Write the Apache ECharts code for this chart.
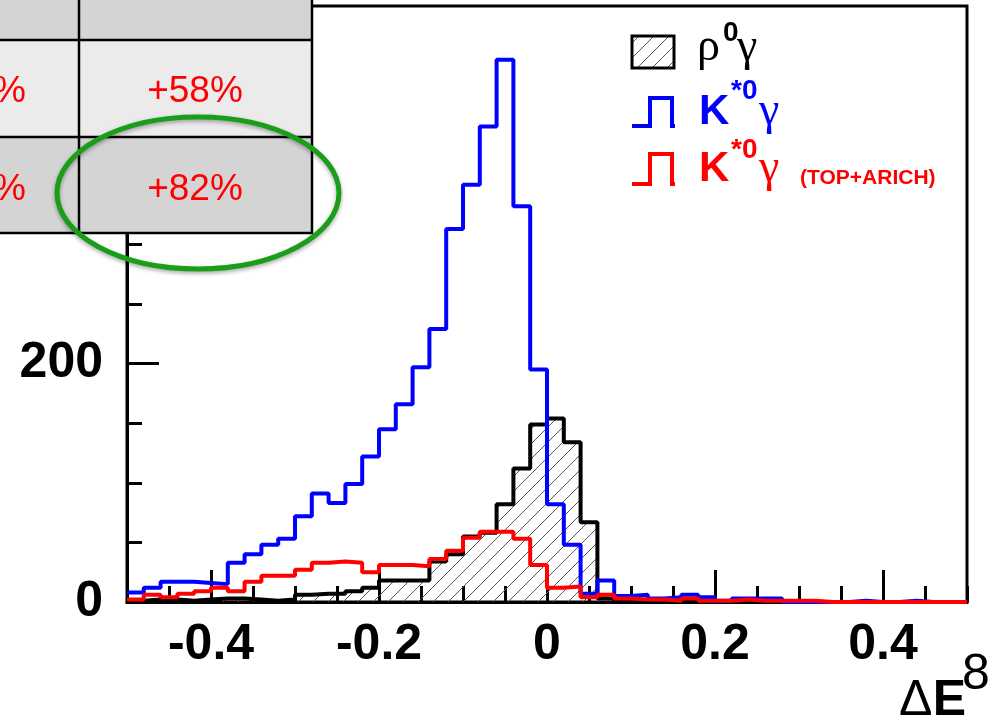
<!DOCTYPE html>
<html>
<head>
<meta charset="utf-8">
<script src="https://cdn.jsdelivr.net/npm/echarts@6/dist/echarts.min.js"></script>
<style>
  html, body { margin: 0; padding: 0; background: #fff; }
  #chart { width: 1001px; height: 720px; }
</style>
</head>
<body>
<div id="chart"></div>
<script>
// histogram binning of Delta E
const xMin = -0.5;
const xMax = 0.5;
const binWidth = 0.02;

// rho0 gamma (black, hatched)
const rhoGamma = [1, 2, 2, 1, 2, 3, 3, 2, 1, 2,
  6, 7, 7, 9, 12, 18, 18, 18, 34, 40,
  55, 58, 82, 112, 149, 154, 134, 67, 3, 1,
  1, 0, 0, 0, 0, 0, 0, 0, 0, 0,
  0, 0, 0, 0, 0, 0, 0, 0, 0, 0];

// K*0 gamma (blue)
const kstarGamma = [8, 12, 17, 17, 16, 15, 33, 40, 48, 53,
  72, 91, 83, 99, 122, 145, 166, 197, 229, 313,
  350, 399, 455, 332, 195, 82, 48, 7, 18, 5,
  6, 3, 4, 6, 4, 1, 3, 3, 3, 0,
  0, 0, 0, 1, 0, 0, 1, 0, 0, 0];

// K*0 gamma with TOP+ARICH (red)
const kstarGammaPid = [2, 6, 4, 7, 9, 12, 9, 17, 22, 22,
  27, 33, 34, 33, 25, 31, 31, 30, 36, 43,
  54, 59, 59, 53, 31, 12, 13, 4, 6, 3,
  2, 2, 1, 3, 1, 1, 2, 1, 1, 1,
  1, 0, 0, 0, 0, 0, 0, 0, 0, 0];

const xLabelValues = [-0.4, -0.2, 0, 0.2, 0.4];
const yLabelValues = [0, 200, 400];

// table cells in the corner
const tableRight = ['+58%', '+82%'];

function toSteps(values) {
  const pts = values.map((v, i) => [xMin + binWidth * i, v]);
  pts.push([xMin + binWidth * values.length, values[values.length - 1]]);
  return pts;
}

function hatchCanvas(size, color) {
  const c = document.createElement('canvas');
  c.width = size;
  c.height = size;
  const g = c.getContext('2d');
  g.strokeStyle = color;
  g.lineWidth = 1;
  g.beginPath();
  g.moveTo(0, size); g.lineTo(size, 0);
  g.moveTo(-size / 2, size / 2); g.lineTo(size / 2, -size / 2);
  g.moveTo(size / 2, size * 1.5); g.lineTo(size * 1.5, size / 2);
  g.stroke();
  return c;
}

const hatch = hatchCanvas(15, '#555');
const FONT = 'Liberation Sans, Arial, sans-serif';
const SERIF = 'Liberation Serif, Times New Roman, serif';

const chart = echarts.init(document.getElementById('chart'));

const label = (text, x, y, size, color, weight, family, align) => ({
  type: 'text', z: 110, x: x, y: y,
  style: {
    text: text, fill: color, fontSize: size, fontWeight: weight || 'normal',
    fontFamily: family || FONT, align: align || 'left', verticalAlign: 'middle'
  }
});

const stepIcon = (y0, y1, color) => ({
  type: 'polyline', z: 110,
  shape: { points: [[632, y1], [650, y1], [650, y0], [672, y0], [672, y1], [675, y1]] },
  style: { stroke: color, lineWidth: 4, fill: null }
});

const axisBlack = { color: '#000', width: 3 };

const option = {
  animation: false,
  grid: {
    left: 127, right: 34, top: 6, bottom: 118,
    show: true, borderColor: '#000', borderWidth: 3
  },
  xAxis: [
    {
      type: 'value', min: xMin, max: xMax, interval: 0.05,
      axisLine: { show: true, onZero: false, lineStyle: axisBlack },
      axisTick: { inside: true, length: 16, lineStyle: axisBlack },
      axisLabel: { show: false },
      splitLine: { show: false }
    },
    {
      type: 'value', min: xMin, max: xMax, position: 'bottom',
      axisLine: { show: false, onZero: false },
      axisTick: { inside: true, length: 32, customValues: xLabelValues, lineStyle: axisBlack },
      axisLabel: {
        customValues: xLabelValues, margin: 18, color: '#000',
        fontSize: 50, fontWeight: 'bold', fontFamily: FONT
      },
      splitLine: { show: false }
    }
  ],
  yAxis: [
    {
      type: 'value', min: 0, max: 500, interval: 50,
      axisLine: { show: true, onZero: false, lineStyle: axisBlack },
      axisTick: { inside: true, length: 15, lineStyle: axisBlack },
      axisLabel: { show: false },
      splitLine: { show: false }
    },
    {
      type: 'value', min: 0, max: 500, position: 'left',
      axisLine: { show: false, onZero: false },
      axisTick: { inside: true, length: 32, customValues: yLabelValues, lineStyle: axisBlack },
      axisLabel: {
        customValues: yLabelValues, margin: 24, color: '#000',
        fontSize: 50, fontWeight: 'bold', fontFamily: FONT
      },
      splitLine: { show: false }
    }
  ],
  series: [
    {
      name: 'rho0 gamma', type: 'line', step: 'end', symbol: 'none',
      data: toSteps(rhoGamma),
      lineStyle: { color: '#000', width: 4 },
      areaStyle: { color: { image: hatch, repeat: 'repeat' }, opacity: 1 },
      z: 2
    },
    {
      name: 'K*0 gamma', type: 'line', step: 'end', symbol: 'none',
      data: toSteps(kstarGamma),
      lineStyle: { color: '#0000ff', width: 4 },
      z: 3
    },
    {
      name: 'K*0 gamma (TOP+ARICH)', type: 'line', step: 'end', symbol: 'none',
      data: toSteps(kstarGammaPid),
      lineStyle: { color: '#ff0000', width: 4 },
      z: 4
    }
  ],
  graphic: {
    elements: [
      // table
      { type: 'rect', z: 100, shape: { x: 0, y: 0, width: 312, height: 40 }, style: { fill: '#d4d4d4' } },
      { type: 'rect', z: 100, shape: { x: 0, y: 40, width: 312, height: 97 }, style: { fill: '#ebebeb' } },
      { type: 'rect', z: 100, shape: { x: 0, y: 137, width: 312, height: 96 }, style: { fill: '#d4d4d4' } },
      { type: 'line', z: 101, shape: { x1: 0, y1: 40, x2: 313, y2: 40 }, style: { stroke: '#000', lineWidth: 2.5 } },
      { type: 'line', z: 101, shape: { x1: 0, y1: 137, x2: 313, y2: 137 }, style: { stroke: '#000', lineWidth: 2.5 } },
      { type: 'line', z: 101, shape: { x1: 0, y1: 233, x2: 313, y2: 233 }, style: { stroke: '#000', lineWidth: 2.5 } },
      { type: 'line', z: 101, shape: { x1: 79, y1: 0, x2: 79, y2: 234 }, style: { stroke: '#000', lineWidth: 2.5 } },
      { type: 'line', z: 101, shape: { x1: 312, y1: 0, x2: 312, y2: 234 }, style: { stroke: '#000', lineWidth: 2.5 } },
      label('%', 26, 92, 37, '#ff0000', 'normal', FONT, 'right'),
      label('%', 26, 190, 37, '#ff0000', 'normal', FONT, 'right'),
      label(tableRight[0], 195, 92, 37, '#ff0000', 'normal', FONT, 'center'),
      label(tableRight[1], 195, 190, 37, '#ff0000', 'normal', FONT, 'center'),
      // green ellipse
      {
        type: 'ellipse', z: 105,
        shape: { cx: 198, cy: 193, rx: 141, ry: 76 },
        style: {
          fill: null, stroke: '#1a9e1a', lineWidth: 5,
          shadowBlur: 4, shadowColor: 'rgba(0,0,0,0.35)', shadowOffsetY: 2
        }
      },
      // legend
      {
        type: 'rect', z: 110, shape: { x: 632, y: 36, width: 42, height: 32 },
        style: { fill: { image: hatch, repeat: 'repeat' }, stroke: '#000', lineWidth: 3 }
      },
      label('ρ', 697, 48, 46, '#000', 'normal', SERIF),
      label('0', 723, 33, 28, '#000', 'bold'),
      label('γ', 737, 48, 46, '#000', 'normal', SERIF),
      stepIcon(98, 126, '#0000ff'),
      label('K', 699, 112, 42, '#0000ff', 'bold'),
      label('*0', 731, 91, 28, '#0000ff', 'bold'),
      label('γ', 759, 112, 46, '#0000ff', 'normal', SERIF),
      stepIcon(154, 184, '#ff0000'),
      label('K', 699, 169, 42, '#ff0000', 'bold'),
      label('*0', 731, 150, 28, '#ff0000', 'bold'),
      label('γ', 759, 169, 46, '#ff0000', 'normal', SERIF),
      label('(TOP+ARICH)', 800, 178, 21, '#ff0000', 'bold'),
      // axis title
      label('Δ', 899, 701, 50, '#000', 'normal'),
      label('E', 966, 701, 50, '#000', 'bold', FONT, 'right'),
      label('8', 976, 675, 50, '#000', 'normal', FONT, 'center')
    ]
  }
};

chart.setOption(option);
</script>
</body>
</html>
